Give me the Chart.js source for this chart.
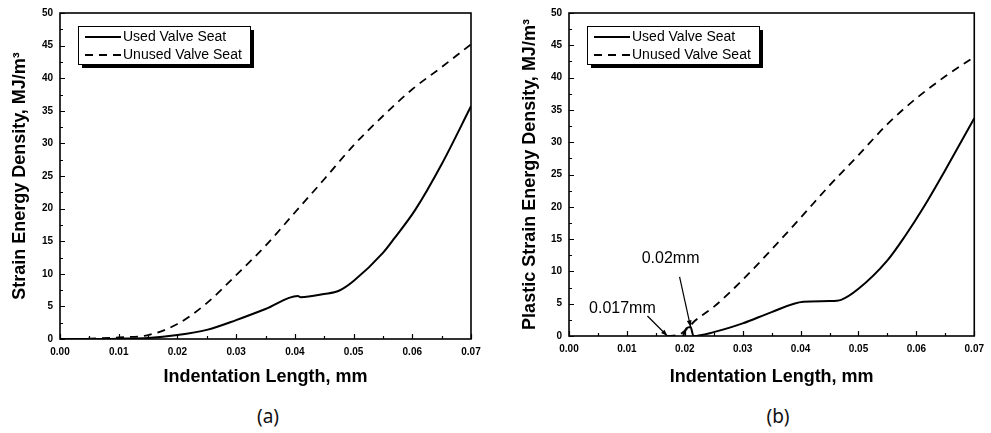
<!DOCTYPE html>
<html lang="en">
<head>
    <meta charset="UTF-8">
    <title>Strain Energy Density</title>
    <script src="https://cdn.jsdelivr.net/npm/chart.js"></script>
    <style>
        * { margin: 0; padding: 0; box-sizing: border-box; }
        body { background: #fff; width: 991px; height: 433px; position: relative; overflow: hidden; }
        .panel { position: absolute; top: 0; height: 388px; }
        #panelA { left: 0; width: 495px; }
        #panelB { left: 495px; width: 496px; }
        .caption {
            position: absolute; top: 403px; width: 60px; margin-left: -30px;
            text-align: center; font-family: 'Noto Sans', sans-serif; font-size: 19px; color: #111;
        }
    </style>
</head>
<body>
    <div class="panel" id="panelA"><canvas id="chartA"></canvas></div>
    <div class="panel" id="panelB"><canvas id="chartB"></canvas></div>
    <div class="caption" style="left:268px">(a)</div>
    <div class="caption" style="left:778px">(b)</div>

    <script>
        // chart (a): strain energy density
        const usedX_A   = [0, 0.005, 0.01, 0.015, 0.02, 0.025, 0.03, 0.035, 0.0405, 0.041, 0.045, 0.0475, 0.05, 0.055, 0.057, 0.0605, 0.065, 0.07];
        const usedY_A   = [0, 0, 0.05, 0.15, 0.6, 1.4, 2.9, 4.6, 6.6, 6.4, 6.9, 7.4, 8.9, 13.2, 15.5, 19.8, 26.8, 35.7];
        const unusedX_A = [0, 0.005, 0.01, 0.015, 0.02, 0.025, 0.03, 0.035, 0.04, 0.045, 0.05, 0.055, 0.06, 0.065, 0.07];
        const unusedY_A = [0, 0.05, 0.25, 0.6, 2.3, 5.5, 9.8, 14.3, 19.4, 24.5, 29.7, 34.2, 38.3, 41.7, 45.2];

        // chart (b): plastic strain energy density
        const usedX_B   = [0.0197, 0.0203, 0.021, 0.0215, 0.025, 0.03, 0.035, 0.0405, 0.045, 0.047, 0.05, 0.055, 0.058, 0.0613, 0.065, 0.07];
        const usedY_B   = [0, 1.2, 1.4, 0, 0.6, 1.95, 3.7, 5.3, 5.4, 5.6, 7.3, 11.7, 15.4, 20.0, 25.7, 33.7];
        const unusedX_B = [0.017, 0.019, 0.0205, 0.0218, 0.025, 0.03, 0.035, 0.04, 0.045, 0.05, 0.055, 0.06, 0.065, 0.07];
        const unusedY_B = [0, 0.2, 1.2, 2.4, 4.5, 8.7, 13.4, 18.3, 23.3, 28.0, 32.8, 36.8, 40.2, 43.2];

        const seriesNames = ['Used Valve Seat', 'Unused Valve Seat'];
        const xTitle = 'Indentation Length, mm';
        const yTitleA = 'Strain Energy Density, MJ/m\u00B3';
        const yTitleB = 'Plastic Strain Energy Density, MJ/m\u00B3';
        const notesB = [
            { text: '0.017mm', x: 0.017, y: 0 },
            { text: '0.02mm', x: 0.021, y: 1.4 }
        ];

        const AXIS_FONT = "'Liberation Sans', Arial, sans-serif";
        const toPoints = (xs, ys) => xs.map((x, i) => ({ x: x, y: ys[i] }));

        // box around the plot with inward major and minor ticks
        const frameTicks = {
            id: 'frameTicks',
            afterDatasetsDraw(chart) {
                const { ctx, chartArea: a, scales: { x, y } } = chart;
                ctx.save();
                ctx.strokeStyle = '#000';
                ctx.lineWidth = 1.2;
                ctx.beginPath();
                for (let v = 0; v <= 0.0701; v += 0.005) {
                    const px = Math.round(x.getPixelForValue(v)) + 0.5;
                    const len = Math.round(v * 1000) % 10 === 0 ? 5 : 3;
                    ctx.moveTo(px, a.bottom);
                    ctx.lineTo(px, a.bottom - len);
                }
                for (let v = 0; v <= 50; v += 2.5) {
                    const py = Math.round(y.getPixelForValue(v)) + 0.5;
                    const len = v % 5 === 0 ? 5 : 3;
                    ctx.moveTo(a.left, py);
                    ctx.lineTo(a.left + len, py);
                }
                ctx.stroke();
                ctx.lineWidth = 1.6;
                ctx.strokeRect(a.left, a.top, a.right - a.left, a.bottom - a.top);
                ctx.restore();
            }
        };

        // legend box with drop shadow, drawn inside the plot
        const boxLegend = {
            id: 'boxLegend',
            afterDraw(chart) {
                const { ctx, chartArea: a } = chart;
                const left = a.left + 18, top = a.top + 13, w = 172, h = 38;
                ctx.save();
                ctx.fillStyle = '#000';
                ctx.fillRect(left + 4, top + 4, w, h);
                ctx.fillStyle = '#fff';
                ctx.fillRect(left, top, w, h);
                ctx.strokeStyle = '#000';
                ctx.lineWidth = 1;
                ctx.strokeRect(left + 0.5, top + 0.5, w, h);
                ctx.font = '14px ' + AXIS_FONT;
                ctx.textBaseline = 'middle';
                chart.data.datasets.forEach((ds, i) => {
                    const ly = top + 11 + i * 18;
                    ctx.beginPath();
                    ctx.setLineDash(ds.borderDash || []);
                    ctx.lineWidth = ds.borderWidth;
                    ctx.moveTo(left + 7, ly);
                    ctx.lineTo(left + 43, ly);
                    ctx.stroke();
                    ctx.setLineDash([]);
                    ctx.fillStyle = '#000';
                    ctx.fillText(ds.label, left + 45, ly);
                });
                ctx.restore();
            }
        };

        // arrow callouts for chart (b)
        const callouts = {
            id: 'callouts',
            afterDatasetsDraw(chart) {
                const { ctx, scales: { x, y } } = chart;
                const offsets = [
                    { tail: [-20, -20], label: [-45, -27] },
                    { tail: [-11, -50], label: [-20, -68] }
                ];
                ctx.save();
                ctx.strokeStyle = '#000';
                ctx.fillStyle = '#000';
                ctx.lineWidth = 1.2;
                ctx.font = '16px ' + AXIS_FONT;
                ctx.textAlign = 'center';
                ctx.textBaseline = 'middle';
                notesB.forEach((n, i) => {
                    const tx = x.getPixelForValue(n.x), ty = y.getPixelForValue(n.y);
                    const o = offsets[i];
                    const sx = tx + o.tail[0], sy = ty + o.tail[1];
                    ctx.beginPath();
                    ctx.moveTo(sx, sy);
                    ctx.lineTo(tx, ty);
                    ctx.stroke();
                    const ang = Math.atan2(ty - sy, tx - sx);
                    ctx.beginPath();
                    ctx.moveTo(tx, ty);
                    ctx.lineTo(tx - 7 * Math.cos(ang - 0.35), ty - 7 * Math.sin(ang - 0.35));
                    ctx.lineTo(tx - 7 * Math.cos(ang + 0.35), ty - 7 * Math.sin(ang + 0.35));
                    ctx.closePath();
                    ctx.fill();
                    ctx.fillText(n.text, tx + o.label[0], ty + o.label[1]);
                });
                ctx.restore();
            }
        };

        function makeChart(id, used, unused, yTitle, yWidth, xHeight, pad, extra) {
            const ctx = document.getElementById(id).getContext('2d');
            return new Chart(ctx, {
                type: 'line',
                data: {
                    datasets: [{
                        label: seriesNames[0],
                        data: used,
                        borderColor: '#000',
                        borderWidth: 2,
                        pointRadius: 0,
                        cubicInterpolationMode: 'monotone'
                    }, {
                        label: seriesNames[1],
                        data: unused,
                        borderColor: '#000',
                        borderWidth: 1.8,
                        borderDash: [8, 6],
                        pointRadius: 0,
                        cubicInterpolationMode: 'monotone'
                    }]
                },
                options: {
                    responsive: true,
                    maintainAspectRatio: false,
                    animation: false,
                    layout: { padding: pad },
                    scales: {
                        x: {
                            type: 'linear',
                            min: 0,
                            max: 0.07,
                            grid: { display: false, drawTicks: false },
                            border: { display: false },
                            ticks: {
                                stepSize: 0.01,
                                padding: 7,
                                color: '#000',
                                font: { family: AXIS_FONT, size: 10, weight: 'bold' },
                                callback: v => v.toFixed(2)
                            },
                            title: {
                                display: true,
                                text: xTitle,
                                color: '#000',
                                padding: 0,
                                font: { family: AXIS_FONT, size: 18, weight: 'bold' }
                            },
                            afterFit: s => { s.height = xHeight; }
                        },
                        y: {
                            min: 0,
                            max: 50,
                            grid: { display: false, drawTicks: false },
                            border: { display: false },
                            ticks: {
                                stepSize: 5,
                                padding: 7,
                                color: '#000',
                                font: { family: AXIS_FONT, size: 10, weight: 'bold' }
                            },
                            title: {
                                display: true,
                                text: yTitle,
                                color: '#000',
                                padding: 0,
                                font: { family: AXIS_FONT, size: 18, weight: 'bold' }
                            },
                            afterFit: s => { s.width = yWidth; }
                        }
                    },
                    plugins: {
                        legend: { display: false },
                        tooltip: { enabled: false }
                    }
                },
                plugins: [frameTicks, boxLegend].concat(extra)
            });
        }

        makeChart('chartA', toPoints(usedX_A, usedY_A), toPoints(unusedX_A, unusedY_A), yTitleA,
            51, 49, { left: 9, top: 13, right: 24, bottom: 0 }, []);
        makeChart('chartB', toPoints(usedX_B, usedY_B), toPoints(unusedX_B, unusedY_B), yTitleB,
            50, 52, { left: 24, top: 13, right: 12, bottom: 0 }, [callouts]);
    </script>
</body>
</html>
